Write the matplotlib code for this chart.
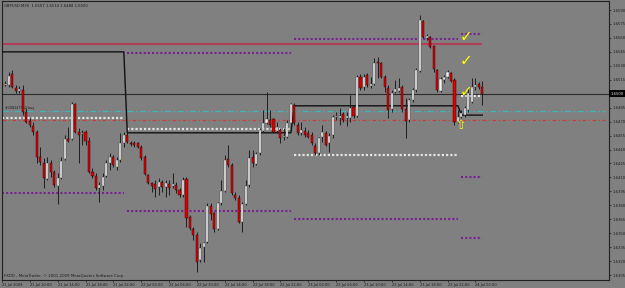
import matplotlib
matplotlib.use('Agg')
import matplotlib.pyplot as plt
import matplotlib.transforms as mtransforms

# GBPUSD M30 bars, 21 Jul 06:00 .. 24 Jul 03:00
opens = [1.6510, 1.6509, 1.6509, 1.6521, 1.6506, 1.6503, 1.6504, 1.6480, 1.6471, 1.6465,
         1.6459, 1.6432, 1.6426, 1.6408, 1.6426, 1.6416, 1.6401, 1.6409, 1.6430, 1.6451,
         1.6451, 1.6489, 1.6459, 1.6457, 1.6459, 1.6449, 1.6416, 1.6412, 1.6399, 1.6401,
         1.6412, 1.6426, 1.6432, 1.6421, 1.6429, 1.6447, 1.6456, 1.6447, 1.6447, 1.6447,
         1.6443, 1.6432, 1.6413, 1.6404, 1.6403, 1.6400, 1.6405, 1.6400, 1.6403, 1.6401,
         1.6402, 1.6397, 1.6391, 1.6408, 1.6367, 1.6355, 1.6348, 1.6321, 1.6335, 1.6341,
         1.6379, 1.6372, 1.6355, 1.6383, 1.6395, 1.6430, 1.6423, 1.6391, 1.6388, 1.6362,
         1.6381, 1.6402, 1.6432, 1.6424, 1.6436, 1.6460, 1.6469, 1.6472, 1.6473, 1.6460,
         1.6461, 1.6453, 1.6453, 1.6469, 1.6488, 1.6466, 1.6458, 1.6460, 1.6458, 1.6456,
         1.6444, 1.6436, 1.6453, 1.6458, 1.6447, 1.6456, 1.6475, 1.6474, 1.6478, 1.6474,
         1.6474, 1.6486, 1.6476, 1.6518, 1.6507, 1.6520, 1.6508, 1.6510, 1.6534, 1.6533,
         1.6518, 1.6506, 1.6484, 1.6502, 1.6503, 1.6507, 1.6484, 1.6472, 1.6493, 1.6504,
         1.6524, 1.6578, 1.6560, 1.6561, 1.6551, 1.6526, 1.6503, 1.6515, 1.6518, 1.6522,
         1.6515, 1.6470, 1.6475, 1.6477, 1.6483, 1.6491, 1.6507, 1.6510, 1.6507]
highs = [1.6513, 1.6514, 1.6523, 1.6526, 1.6509, 1.6508, 1.6509, 1.6485, 1.6474, 1.6470,
         1.6461, 1.6443, 1.6431, 1.6432, 1.6429, 1.6418, 1.6415, 1.6432, 1.6456, 1.6464,
         1.6491, 1.6490, 1.6463, 1.6461, 1.6461, 1.6453, 1.6420, 1.6415, 1.6405, 1.6415,
         1.6429, 1.6436, 1.6434, 1.6432, 1.6458, 1.6459, 1.6461, 1.6449, 1.6449, 1.6448,
         1.6445, 1.6434, 1.6414, 1.6405, 1.6407, 1.6409, 1.6407, 1.6407, 1.6407, 1.6415,
         1.6405, 1.6399, 1.6410, 1.6410, 1.6370, 1.6357, 1.6351, 1.6340, 1.6341, 1.6383,
         1.6383, 1.6373, 1.6384, 1.6407, 1.6434, 1.6445, 1.6426, 1.6394, 1.6391, 1.6384,
         1.6407, 1.6440, 1.6440, 1.6437, 1.6463, 1.6483, 1.6502, 1.6483, 1.6474, 1.6470,
         1.6463, 1.6463, 1.6472, 1.6490, 1.6490, 1.6470, 1.6470, 1.6464, 1.6461, 1.6459,
         1.6447, 1.6453, 1.6466, 1.6460, 1.6458, 1.6477, 1.6480, 1.6485, 1.6480, 1.6480,
         1.6499, 1.6488, 1.6520, 1.6521, 1.6521, 1.6522, 1.6518, 1.6538, 1.6540, 1.6534,
         1.6520, 1.6509, 1.6504, 1.6515, 1.6517, 1.6509, 1.6495, 1.6495, 1.6506, 1.6528,
         1.6585, 1.6579, 1.6564, 1.6562, 1.6552, 1.6527, 1.6518, 1.6520, 1.6526, 1.6523,
         1.6517, 1.6483, 1.6483, 1.6487, 1.6506, 1.6517, 1.6517, 1.6513, 1.6514]
lows = [1.6506, 1.6508, 1.6507, 1.6506, 1.6501, 1.6501, 1.6477, 1.6469, 1.6464, 1.6456,
        1.6426, 1.6423, 1.6399, 1.6407, 1.6410, 1.6400, 1.6381, 1.6408, 1.6429, 1.6448,
        1.6450, 1.6458, 1.6426, 1.6445, 1.6445, 1.6415, 1.6409, 1.6397, 1.6384, 1.6397,
        1.6410, 1.6418, 1.6421, 1.6418, 1.6427, 1.6443, 1.6447, 1.6444, 1.6443, 1.6442,
        1.6429, 1.6413, 1.6403, 1.6394, 1.6389, 1.6391, 1.6394, 1.6389, 1.6391, 1.6399,
        1.6393, 1.6389, 1.6389, 1.6357, 1.6353, 1.6343, 1.6308, 1.6319, 1.6319, 1.6340,
        1.6364, 1.6351, 1.6353, 1.6380, 1.6394, 1.6421, 1.6391, 1.6386, 1.6361, 1.6351,
        1.6380, 1.6400, 1.6421, 1.6423, 1.6434, 1.6459, 1.6467, 1.6464, 1.6458, 1.6458,
        1.6447, 1.6450, 1.6452, 1.6468, 1.6466, 1.6456, 1.6456, 1.6453, 1.6452, 1.6445,
        1.6434, 1.6434, 1.6448, 1.6444, 1.6437, 1.6452, 1.6472, 1.6466, 1.6470, 1.6465,
        1.6470, 1.6474, 1.6475, 1.6504, 1.6504, 1.6507, 1.6506, 1.6509, 1.6517, 1.6517,
        1.6502, 1.6474, 1.6480, 1.6501, 1.6502, 1.6480, 1.6452, 1.6470, 1.6491, 1.6502,
        1.6523, 1.6560, 1.6558, 1.6549, 1.6523, 1.6502, 1.6502, 1.6512, 1.6517, 1.6513,
        1.6466, 1.6469, 1.6474, 1.6475, 1.6480, 1.6490, 1.6504, 1.6505, 1.6488]
closes = [1.6509, 1.6510, 1.6519, 1.6507, 1.6503, 1.6505, 1.6480, 1.6470, 1.6466, 1.6459,
          1.6432, 1.6427, 1.6409, 1.6426, 1.6416, 1.6402, 1.6409, 1.6428, 1.6451, 1.6449,
          1.6489, 1.6459, 1.6456, 1.6458, 1.6449, 1.6416, 1.6412, 1.6399, 1.6402, 1.6410,
          1.6426, 1.6432, 1.6423, 1.6429, 1.6447, 1.6456, 1.6448, 1.6446, 1.6445, 1.6443,
          1.6431, 1.6414, 1.6404, 1.6401, 1.6398, 1.6405, 1.6400, 1.6404, 1.6399, 1.6403,
          1.6397, 1.6391, 1.6407, 1.6366, 1.6356, 1.6348, 1.6319, 1.6334, 1.6340, 1.6379,
          1.6371, 1.6355, 1.6383, 1.6395, 1.6429, 1.6423, 1.6393, 1.6388, 1.6362, 1.6381,
          1.6401, 1.6431, 1.6426, 1.6435, 1.6461, 1.6469, 1.6473, 1.6466, 1.6459, 1.6464,
          1.6452, 1.6455, 1.6469, 1.6489, 1.6469, 1.6458, 1.6461, 1.6456, 1.6453, 1.6447,
          1.6436, 1.6452, 1.6459, 1.6445, 1.6455, 1.6475, 1.6476, 1.6476, 1.6472, 1.6476,
          1.6485, 1.6476, 1.6518, 1.6506, 1.6518, 1.6509, 1.6510, 1.6533, 1.6533, 1.6518,
          1.6507, 1.6483, 1.6501, 1.6505, 1.6506, 1.6484, 1.6471, 1.6493, 1.6504, 1.6526,
          1.6579, 1.6561, 1.6562, 1.6550, 1.6527, 1.6504, 1.6516, 1.6518, 1.6523, 1.6514,
          1.6470, 1.6475, 1.6479, 1.6485, 1.6501, 1.6507, 1.6509, 1.6507, 1.6500]

# daily levels (bar index ranges)
day_start = [0, 36, 84, 132]
day_end = [35, 83, 131, 138]
pivot = [1.6545, 1.6458, 1.6487, 1.6477]
white_lvl = [1.6474, 1.6462, 1.6434, 1.6498]
purple_hi = [None, 1.6544, 1.6559, 1.6564]
purple_lo = [1.6393, 1.6374, 1.6365, 1.6345]
purple_extra = 1.6410
crimson_lvl = 1.6553
buy_lvl = 1.6481
sl_lvl = 1.6472
last_price = 1.6500

time_labels = ['21 Jul 2009', '21 Jul 10:00', '21 Jul 14:00', '21 Jul 18:00', '21 Jul 22:00',
               '22 Jul 02:00', '22 Jul 06:00', '22 Jul 10:00', '22 Jul 14:00', '22 Jul 18:00',
               '22 Jul 22:00', '23 Jul 02:00', '23 Jul 06:00', '23 Jul 10:00', '23 Jul 14:00',
               '23 Jul 18:00', '23 Jul 22:00', '24 Jul 02:00']
price_ticks = [1.6590, 1.6575, 1.6560, 1.6545, 1.6530, 1.6515, 1.6485, 1.6470, 1.6455,
               1.6440, 1.6425, 1.6410, 1.6395, 1.6380, 1.6365, 1.6350, 1.6335, 1.6320, 1.6305]

bg = '#808080'
fg = '#1c1c1c'

fig = plt.figure(figsize=(6.25, 2.88), dpi=100, facecolor=bg)
ax = fig.add_axes([2 / 625, 8 / 288, 607 / 625, 279 / 288], facecolor=bg)
ax.set_xlim(0.14, 174.4)
ax.set_ylim(1.62997, 1.65997)

x_end = 173.2

# horizontal lines
ax.hlines(crimson_lvl, 0.14, 138, color='#b0405a', lw=1.5, zorder=2)
ax.hlines(last_price, 0.14, 174.4, color='#2a2a2a', lw=0.8, zorder=2)
ax.hlines(buy_lvl, 0.14, x_end, color='#40b4b4', lw=0.9, linestyles=[(0, (5, 2, 1, 2))], zorder=2)
ax.hlines(sl_lvl, 0.14, x_end, color='#c84040', lw=0.9, linestyles=[(0, (3, 2, 1, 2))], zorder=2)

for k in range(len(day_start)):
    s, e = day_start[k], day_end[k]
    ax.hlines(white_lvl[k], s, e, color='#e4e4e4', lw=1.6, linestyles=[(0, (1, 0.9))], zorder=2)
    ax.hlines(purple_lo[k], s, e, color='#7a2096', lw=1.5, linestyles=[(0, (1, 1))], zorder=2)
    if purple_hi[k] is not None:
        ax.hlines(purple_hi[k], s, e, color='#7a2096', lw=1.5, linestyles=[(0, (1, 1))], zorder=2)
ax.hlines(purple_extra, day_start[3], day_end[3], color='#7a2096', lw=1.5,
          linestyles=[(0, (1, 1))], zorder=2)

# pivot step line
px, py = [], []
for k in range(len(day_start)):
    px += [day_start[k], day_end[k]]
    py += [pivot[k], pivot[k]]
ax.plot(px, py, color='#111111', lw=1.0, zorder=3)

# candles
for i in range(len(opens)):
    o, h, l, c = opens[i], highs[i], lows[i], closes[i]
    ax.vlines(i, l, h, color='#1e1e1e', lw=0.7, zorder=4)
    bull = c >= o
    body = max(abs(c - o), 0.00004)
    ax.bar(i, body, bottom=min(o, c), width=0.6,
           color='#f0f0f0' if bull else '#e00000',
           edgecolor='#3a3a3a' if bull else '#200000', lw=0.3, zorder=5)

# yellow marks
for yv in [1.6562, 1.6536, 1.6502]:
    ax.text(133.3, yv, '\u2713', color='#ffff00', fontsize=11, fontweight='bold',
            ha='center', va='center', zorder=7)
ax.text(131.9, 1.6466, '\u21e7', color='#ffff00', fontsize=9, ha='center', va='center', zorder=7)

# texts
ax.text(0.004, 0.99, 'GBPUSD,M30  1.6507 1.6514 1.6488 1.6500', transform=ax.transAxes,
        fontsize=2.7, color=fg, ha='left', va='top')
ax.text(0.004, 0.008, 'FXDD - MetaTrader, \u00a9 2001-2009 MetaQuotes Software Corp.',
        transform=ax.transAxes, fontsize=2.8, color=fg, ha='left', va='bottom')
ax.text(1.0, buy_lvl + 0.0002, '#208247952 buy', fontsize=2.4, color=fg, ha='left', va='bottom')

# axes
for sp in ax.spines.values():
    sp.set_color('#202020')
    sp.set_linewidth(0.8)
ax.yaxis.tick_right()
ax.set_yticks(price_ticks)
ax.set_yticklabels(['%.4f' % p for p in price_ticks])
ax.tick_params(axis='y', length=1.5, width=0.5, colors=fg, labelsize=2.7, pad=1)
ax.set_xticks(list(range(0, 137, 8)))
ax.set_xticklabels(time_labels, ha='left')
ax.tick_params(axis='x', length=1.5, width=0.5, colors=fg, labelsize=2.6, pad=0.8)

# current price box
trans = mtransforms.blended_transform_factory(ax.transAxes, ax.transData)
ax.text(1.003, last_price, '1.6500', transform=trans, fontsize=2.7, color='#e8e8e8',
        ha='left', va='center', bbox=dict(facecolor='#000000', edgecolor='none', pad=1.0),
        clip_on=False)

fig.savefig('out.png', dpi=100, facecolor=bg)
